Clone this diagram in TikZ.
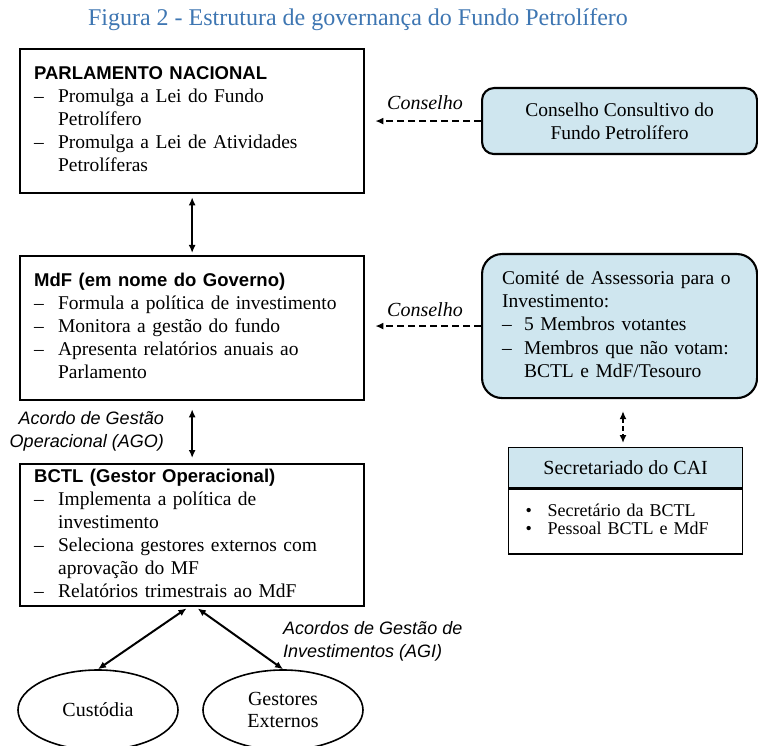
\documentclass[tikz,border=0pt]{standalone}
\usepackage{fontspec}
\setmainfont{Liberation Serif}
\setsansfont{Liberation Sans}
\usetikzlibrary{arrows.meta,shapes.geometric}
\definecolor{boxblue}{RGB}{207,230,239}
\definecolor{titleblue}{RGB}{62,118,178}
\newcommand{\hdr}[1]{\multicolumn{2}{@{}l@{}}{\fontsize{18.5}{23}\sffamily\bfseries #1}}
\newcommand{\full}[1]{\multicolumn{2}{@{}l@{}}{#1}}
\begin{document}
\begin{tikzpicture}[x=1pt,y=-1pt,
  mainbox/.style={draw, line width=2.3pt, minimum width=344pt, text width=316pt,
    inner xsep=14pt, inner ysep=0pt, align=left, anchor=north west,
    font=\fontsize{19.5}{23}\selectfont},
  roundbox/.style={draw, line width=2.1pt, fill=boxblue, minimum width=275pt,
    anchor=north west, inner sep=0pt},
  secbox/.style={draw, line width=1.3pt, minimum width=234pt, anchor=north west, inner sep=0pt},
  oval/.style={draw, ellipse, line width=1.6pt, minimum width=160pt, minimum height=80pt,
    inner sep=0pt, align=center, font=\fontsize{20}{22}\selectfont},
  solidarrow/.style={line width=2pt, {Latex[length=8pt,width=7pt]}-{Latex[length=8pt,width=7pt]}},
  dasharrow/.style={line width=2.2pt, dash pattern=on 7pt off 4pt, -{Latex[length=8pt,width=7pt]}},
  italabel/.style={font=\fontsize{20}{23}\selectfont\itshape, inner sep=0pt},
  sanslabel/.style={font=\fontsize{18}{23}\selectfont\sffamily\itshape, inner sep=0pt}
]
\useasboundingbox (0,0) rectangle (758,746);

% title
\node[font=\fontsize{24}{28}\selectfont, text=titleblue, inner sep=0pt] (title) at (358,20)
  {Figura 2 - Estrutura de governança do Fundo Petrolífero};

% left column
\node[mainbox, minimum height=144pt] (parl) at (19,48) {%
\begin{tabular}{@{}p{24pt}@{}l@{}}
\hdr{PARLAMENTO NACIONAL}\\
–& Promulga a Lei do Fundo\\
 & Petrolífero\\
–& Promulga a Lei de Atividades\\
 & Petrolíferas
\end{tabular}};

\node[mainbox, minimum height=144pt] (mdf) at (19,255) {%
\begin{tabular}{@{}p{24pt}@{}l@{}}
\hdr{MdF (em nome do Governo)}\\
–& Formula a política de investimento\\
–& Monitora a gestão do fundo\\
–& Apresenta relatórios anuais ao\\
 & Parlamento
\end{tabular}};

\node[mainbox, minimum height=142pt] (bctl) at (19,463) {%
\begin{tabular}{@{}p{24pt}@{}l@{}}
\hdr{BCTL (Gestor Operacional)}\\
–& Implementa a política de\\
 & investimento\\
–& Seleciona gestores externos com\\
 & aprovação do MF\\
–& Relatórios trimestrais ao MdF
\end{tabular}};

\node[oval] (cust) at (98,710) {Custódia};
\node[oval] (gest) at (283,710) {Gestores\\Externos};

% right column
\node[roundbox, rounded corners=12pt, minimum height=66pt, align=center,
  font=\fontsize{19.5}{23}\selectfont] (cons) at (481,87)
  {Conselho Consultivo do\\Fundo Petrolífero};

\node[roundbox, rounded corners=20pt, minimum height=144pt, text width=235pt,
  inner xsep=20pt, align=left, font=\fontsize{19.5}{23.3}\selectfont] (comite) at (481,253) {%
\begin{tabular}{@{}p{22pt}@{}l@{}}
\full{Comité de Assessoria para o}\\
\full{Investimento:}\\
–& 5 Membros votantes\\
–& Membros que não votam:\\
 & BCTL e MdF/Tesouro
\end{tabular}};

\node[secbox, fill=boxblue, minimum height=40pt, font=\fontsize{20}{23}\selectfont] (secH) at (508,447)
  {Secretariado do CAI};
\node[secbox, minimum height=65pt, text width=200pt, inner xsep=17pt, align=left,
  font=\fontsize{18}{18}\selectfont] (secB) at (secH.south west) {%
\begin{tabular}{@{}p{22pt}@{}l@{}}
•& Secretário da BCTL\\
•& Pessoal BCTL e MdF
\end{tabular}};

% labels
\node[italabel] (lab1) at (425,103) {Conselho};
\node[italabel] (lab2) at (425,310) {Conselho};
\node[sanslabel, anchor=east, align=right] (ago) at (164,431.5) {Acordo de Gestão\\Operacional (AGO)};
\node[sanslabel, anchor=west, align=left] (agi) at (283,641.5) {Acordos de Gestão de\\Investimentos (AGI)};

% connectors
\draw[solidarrow, shorten <=3pt, shorten >=2pt] (parl.south) -- (mdf.north);
\draw[solidarrow, shorten <=8pt, shorten >=5pt] (mdf.south) -- (bctl.north);
\draw[solidarrow, shorten <=2pt] ([xshift=-4pt]bctl.south) -- (cust.north);
\draw[solidarrow, shorten <=2pt] ([xshift=4pt]bctl.south) -- (gest.north);

\coordinate (parlR) at ([xshift=10pt]parl.east);
\coordinate (mdfR) at ([xshift=10pt]mdf.east);
\draw[dasharrow] (cons.west) -- (cons.west -| parlR);
\draw[dasharrow] (comite.west) -- (comite.west -| mdfR);
\coordinate (vx) at (623,0);
\draw[dasharrow, {Latex[length=8pt,width=7pt]}-{Latex[length=8pt,width=7pt]},
  dash pattern=on 5pt off 3pt, shorten <=12pt, shorten >=4pt]
  (comite.south -| vx) -- (secH.north -| vx);
\end{tikzpicture}
\end{document}
